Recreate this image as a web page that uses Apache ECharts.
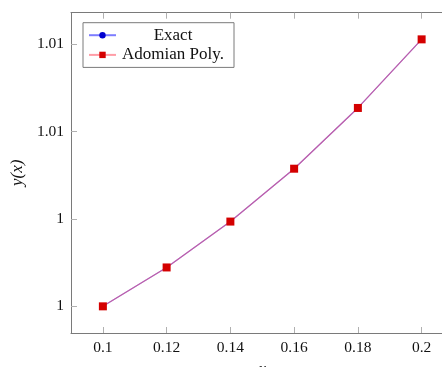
<!DOCTYPE html>
<html>
<head>
<meta charset="utf-8">
<script src="https://cdn.jsdelivr.net/npm/echarts@6/dist/echarts.min.js"></script>
<style>
html,body{margin:0;padding:0;background:#fff;}
#c{width:442px;height:367px;}
</style>
</head>
<body>
<div id="c"></div>
<script>
const xValues = [0.1, 0.12, 0.14, 0.16, 0.18, 0.2];
const exactValues = [1.002, 1.00289, 1.00394, 1.00515, 1.00654, 1.00811];
const adomianValues = [1.002, 1.00289, 1.00394, 1.00515, 1.00654, 1.00811];
const xTicks = [0.1, 0.12, 0.14, 0.16, 0.18, 0.2];
const yTicks = [1.002, 1.004, 1.006, 1.008];

const serif = '"Liberation Serif", "DejaVu Serif", serif';
const chart = echarts.init(document.getElementById('c'), null, {renderer: 'canvas'});

function pairs(xs, ys) { return xs.map((x, i) => [x, ys[i]]); }
function fmt(v) { return String(parseFloat(v.toFixed(2))); }

const axisLineStyle = {color: '#7a7a7a', width: 1};
const tickStyle = {color: '#b0b0b0', width: 1};

chart.setOption({
  backgroundColor: '#ffffff',
  animation: false,
  grid: {left: 71, top: 12.7, width: 382.5, height: 320.3, containLabel: false, outerBoundsMode: 'none'},
  legend: {
    left: 83, top: 22.7, orient: 'vertical',
    backgroundColor: '#fff',
    borderColor: '#7a7a7a', borderWidth: 1,
    padding: [4, 9, 4, 5],
    itemWidth: 27, itemHeight: 8, itemGap: 2.7,
    formatter: name => '{a|' + name + '}',
    textStyle: {
      fontFamily: serif, fontSize: 17, color: '#111',
      rich: {a: {width: 104, align: 'center', lineHeight: 18, fontFamily: serif, fontSize: 17, color: '#111'}}
    },
    data: ['Exact', 'Adomian Poly.']
  },
  xAxis: [{
    type: 'value', min: 0.09, max: 0.21, position: 'bottom',
    name: 'x', nameLocation: 'middle', nameGap: 21,
    nameTextStyle: {fontFamily: serif, fontStyle: 'italic', fontSize: 17, color: '#111'},
    axisLine: {show: true, lineStyle: axisLineStyle},
    axisTick: {show: true, inside: true, length: 6, lineStyle: tickStyle, customValues: xTicks},
    axisLabel: {show: true, margin: 7, fontFamily: serif, fontSize: 15.5, color: '#111', customValues: xTicks, formatter: v => String(v)},
    splitLine: {show: false}
  }, {
    type: 'value', min: 0.09, max: 0.21, position: 'top',
    axisLine: {show: true, lineStyle: axisLineStyle},
    axisTick: {show: true, inside: true, length: 6, lineStyle: tickStyle, customValues: xTicks},
    axisLabel: {show: false},
    splitLine: {show: false}
  }],
  yAxis: [{
    type: 'value', min: 1.00139, max: 1.00872, position: 'left',
    name: 'y(x)', nameLocation: 'middle', nameGap: 41, nameRotate: 90,
    nameTextStyle: {fontFamily: serif, fontStyle: 'italic', fontSize: 17, color: '#111'},
    axisLine: {show: true, lineStyle: axisLineStyle},
    axisTick: {show: true, inside: true, length: 6, lineStyle: tickStyle, customValues: yTicks},
    axisLabel: {show: true, margin: 7, fontFamily: serif, fontSize: 15.5, color: '#111', customValues: yTicks, formatter: v => fmt(v)},
    splitLine: {show: false}
  }],
  series: [{
    name: 'Exact', type: 'line', xAxisIndex: 0,
    data: pairs(xValues, exactValues),
    symbol: 'circle', symbolSize: 6,
    itemStyle: {color: '#0000d0'},
    lineStyle: {color: 'rgba(70,70,255,0.7)', width: 1.2},
    z: 2
  }, {
    name: 'Adomian Poly.', type: 'line', xAxisIndex: 0,
    data: pairs(xValues, adomianValues),
    symbol: 'rect', symbolSize: 8,
    itemStyle: {color: '#d40000'},
    lineStyle: {color: 'rgba(255,60,80,0.5)', width: 1.2},
    z: 3
  }]
});
</script>
</body>
</html>
